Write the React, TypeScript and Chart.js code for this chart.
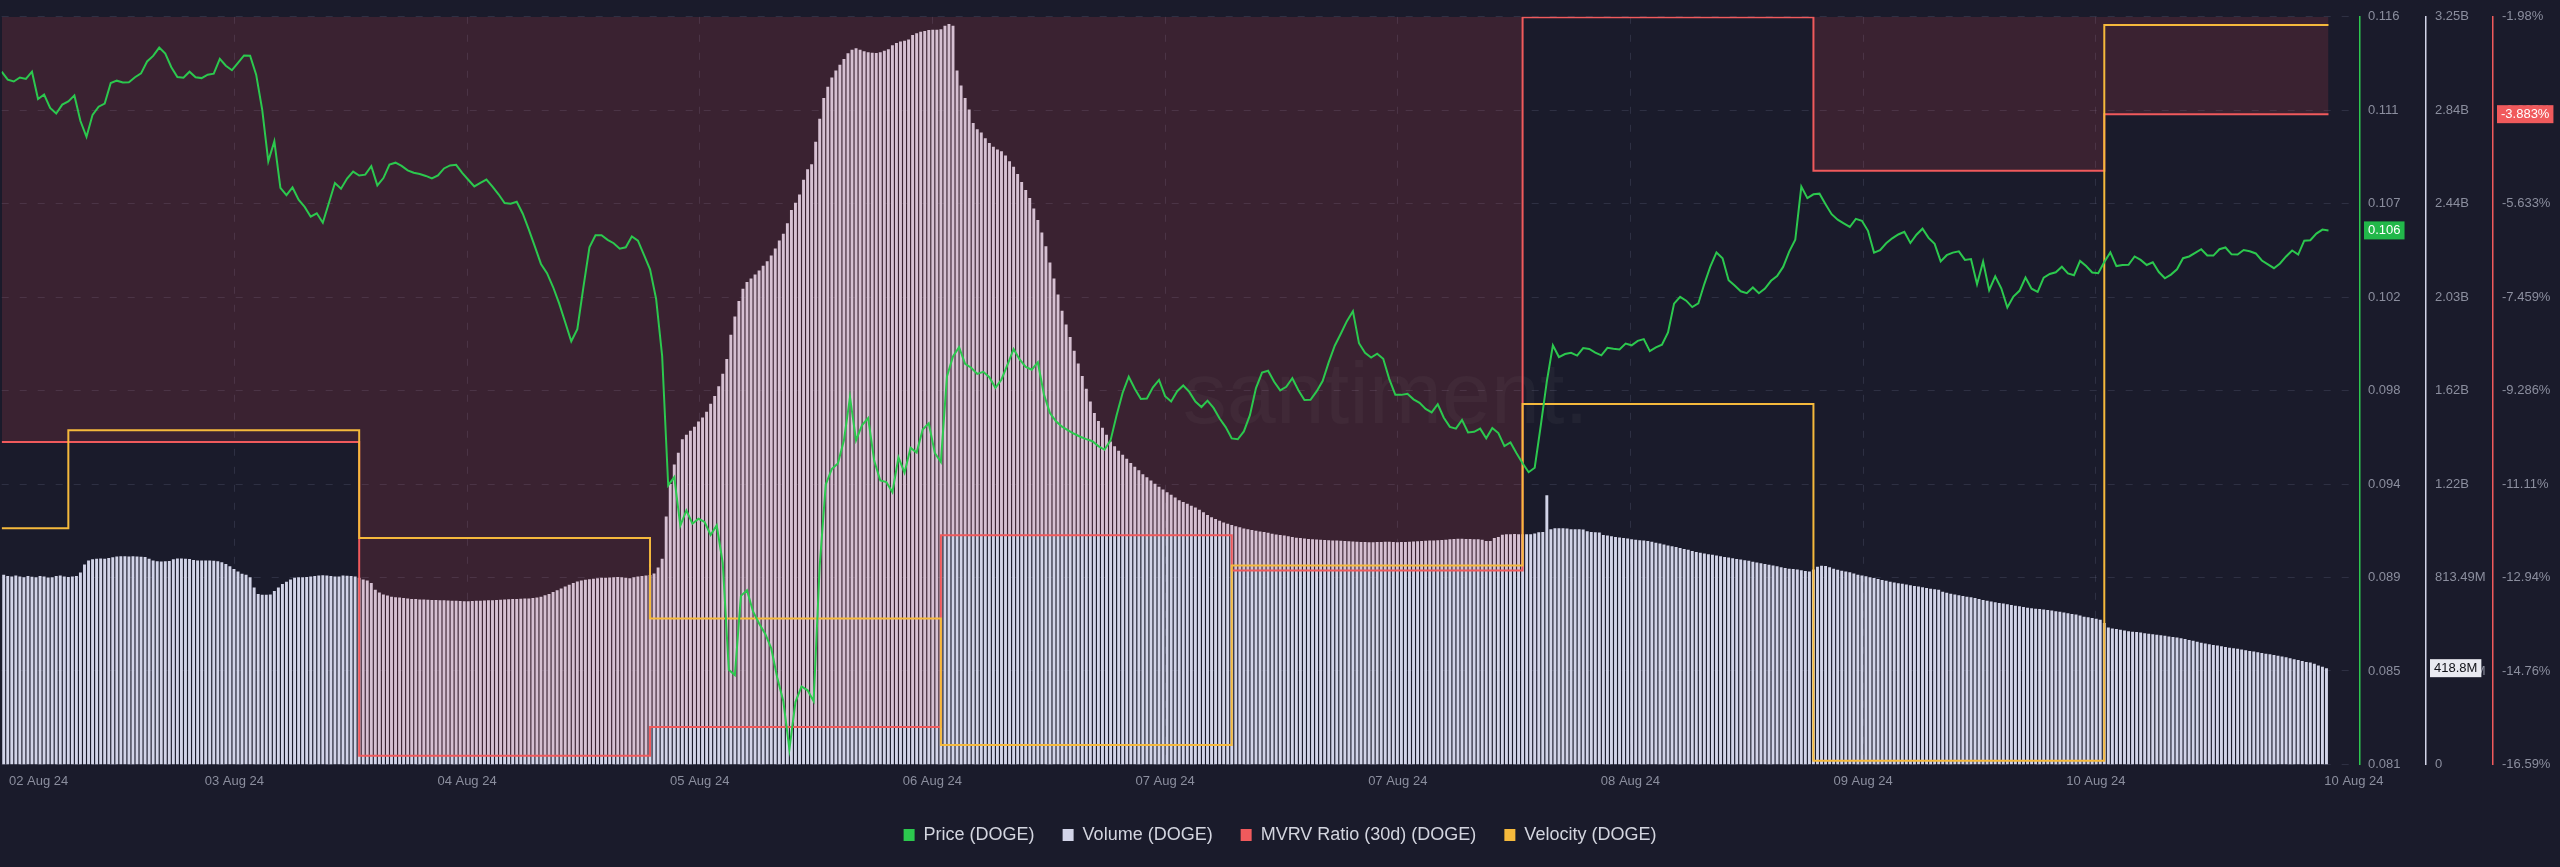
import React, { useEffect, useRef } from 'react';
import { Chart, registerables } from 'chart.js';

Chart.register(...registerables);

// ---- time grid (hours from the left edge of the chart) ----
const priceStepHours = 0.5;
const volumeStepHours = 1 / 3;

// Price (DOGE), USD, one value every 30 minutes
const priceValues = [
  0.11343, 0.11306, 0.11297, 0.11316, 0.11309, 0.11343, 0.11215, 0.11236, 0.11173, 0.11147,
  0.11189, 0.11204, 0.11232, 0.11112, 0.11038, 0.11141, 0.11179, 0.11194, 0.11290, 0.11301,
  0.11293, 0.11294, 0.11317, 0.11335, 0.11391, 0.11417, 0.11456, 0.11428, 0.11364, 0.11318,
  0.11315, 0.11343, 0.11317, 0.11313, 0.11329, 0.11334, 0.11403, 0.11371, 0.11350, 0.11384,
  0.11419, 0.11418, 0.11329, 0.11164, 0.10923, 0.11017, 0.10799, 0.10765, 0.10801, 0.10744,
  0.10710, 0.10664, 0.10680, 0.10636, 0.10728, 0.10822, 0.10795, 0.10843, 0.10875, 0.10857,
  0.10861, 0.10901, 0.10811, 0.10845, 0.10908, 0.10917, 0.10902, 0.10881, 0.10870, 0.10864,
  0.10855, 0.10843, 0.10857, 0.10890, 0.10904, 0.10907, 0.10869, 0.10837, 0.10806, 0.10822,
  0.10838, 0.10805, 0.10769, 0.10728, 0.10725, 0.10734, 0.10678, 0.10604, 0.10524, 0.10443,
  0.10400, 0.10335, 0.10258, 0.10170, 0.10081, 0.10138, 0.10333, 0.10521, 0.10577, 0.10577,
  0.10556, 0.10540, 0.10514, 0.10521, 0.10572, 0.10552, 0.10485, 0.10418, 0.10280, 0.10012,
  0.09406, 0.09445, 0.09218, 0.09289, 0.09227, 0.09250, 0.09235, 0.09174, 0.09219, 0.09043,
  0.08543, 0.08518, 0.08889, 0.08915, 0.08816, 0.08760, 0.08712, 0.08644, 0.08506, 0.08396,
  0.08171, 0.08392, 0.08465, 0.08447, 0.08396, 0.09030, 0.09411, 0.09483, 0.09509, 0.09617,
  0.09819, 0.09617, 0.09689, 0.09721, 0.09521, 0.09429, 0.09422, 0.09374, 0.09537, 0.09466,
  0.09582, 0.09560, 0.09668, 0.09697, 0.09558, 0.09516, 0.09916, 0.10010, 0.10053, 0.09975,
  0.09957, 0.09928, 0.09938, 0.09913, 0.09863, 0.09902, 0.09971, 0.10045, 0.09996, 0.09961,
  0.09948, 0.09983, 0.09833, 0.09745, 0.09706, 0.09681, 0.09664, 0.09648, 0.09634, 0.09623,
  0.09613, 0.09590, 0.09573, 0.09617, 0.09735, 0.09840, 0.09915, 0.09859, 0.09811, 0.09813,
  0.09865, 0.09900, 0.09824, 0.09799, 0.09847, 0.09874, 0.09844, 0.09799, 0.09773, 0.09803,
  0.09769, 0.09719, 0.09679, 0.09626, 0.09622, 0.09659, 0.09735, 0.09862, 0.09934, 0.09943,
  0.09891, 0.09851, 0.09868, 0.09908, 0.09852, 0.09806, 0.09807, 0.09846, 0.09895, 0.09982,
  0.10060, 0.10116, 0.10175, 0.10222, 0.10072, 0.10027, 0.10005, 0.10023, 0.09999, 0.09904,
  0.09830, 0.09830, 0.09835, 0.09809, 0.09793, 0.09764, 0.09748, 0.09786, 0.09723, 0.09680,
  0.09672, 0.09713, 0.09654, 0.09657, 0.09672, 0.09627, 0.09675, 0.09651, 0.09590, 0.09607,
  0.09557, 0.09510, 0.09468, 0.09489, 0.09686, 0.09893, 0.10062, 0.10007, 0.10021, 0.10027,
  0.10014, 0.10049, 0.10045, 0.10028, 0.10015, 0.10050, 0.10046, 0.10043, 0.10070, 0.10062,
  0.10083, 0.10091, 0.10035, 0.10052, 0.10065, 0.10122, 0.10257, 0.10289, 0.10271, 0.10241,
  0.10258, 0.10350, 0.10432, 0.10497, 0.10470, 0.10367, 0.10342, 0.10315, 0.10306, 0.10333,
  0.10306, 0.10328, 0.10364, 0.10386, 0.10429, 0.10501, 0.10556, 0.10805, 0.10751, 0.10769,
  0.10772, 0.10722, 0.10676, 0.10650, 0.10633, 0.10616, 0.10654, 0.10645, 0.10598, 0.10496,
  0.10508, 0.10540, 0.10563, 0.10581, 0.10593, 0.10541, 0.10580, 0.10608, 0.10565, 0.10537,
  0.10455, 0.10484, 0.10496, 0.10502, 0.10462, 0.10466, 0.10348, 0.10454, 0.10320, 0.10385,
  0.10329, 0.10239, 0.10290, 0.10317, 0.10379, 0.10327, 0.10312, 0.10379, 0.10396, 0.10404,
  0.10430, 0.10399, 0.10390, 0.10457, 0.10433, 0.10403, 0.10400, 0.10452, 0.10497, 0.10433,
  0.10438, 0.10439, 0.10478, 0.10462, 0.10438, 0.10451, 0.10405, 0.10376, 0.10393, 0.10418,
  0.10470, 0.10478, 0.10495, 0.10512, 0.10483, 0.10482, 0.10512, 0.10520, 0.10488, 0.10487,
  0.10508, 0.10502, 0.10492, 0.10459, 0.10441, 0.10423, 0.10445, 0.10478, 0.10506, 0.10487,
  0.10552, 0.10554, 0.10585, 0.10604, 0.10600,
];

// Volume (DOGE), millions of USD, one bar every 20 minutes
const volumeValues = [
  825, 820, 818, 822, 818, 815, 820, 817, 815, 820, 818, 814,
  815, 820, 822, 818, 816, 818, 820, 835, 870, 888, 893, 895,
  896, 895, 898, 902, 905, 906, 906, 905, 906, 905, 904, 903,
  895, 888, 884, 883, 884, 885, 893, 896, 896, 895, 894, 890,
  888, 888, 887, 887, 886, 884, 880, 872, 862, 850, 840, 830,
  825, 815, 770, 742, 738, 738, 740, 755, 770, 785, 795, 805,
  812, 815, 815, 816, 818, 820, 822, 823, 822, 820, 818, 818,
  822, 821, 820, 818, 812, 805, 800, 790, 760, 748, 740, 735,
  730, 728, 726, 724, 722, 720, 720, 718, 718, 717, 716, 716,
  715, 714, 713, 712, 712, 711, 710, 710, 711, 712, 712, 713,
  714, 715, 716, 717, 718, 719, 720, 720, 721, 722, 722, 724,
  726, 730, 736, 742, 750, 758, 766, 774, 782, 790, 796, 800,
  804, 806, 808, 810, 812, 812, 814, 815, 816, 815, 812, 810,
  815, 818, 820, 822, 824, 831, 857, 895, 1079, 1220, 1305, 1356,
  1415, 1435, 1452, 1470, 1492, 1510, 1535, 1570, 1603, 1646, 1700, 1765,
  1870, 1950, 2017, 2070, 2100, 2115, 2132, 2150, 2170, 2190, 2215, 2245,
  2280, 2310, 2355, 2413, 2445, 2480, 2545, 2590, 2612, 2710, 2810, 2900,
  2950, 2990, 3020, 3045, 3070, 3095, 3110, 3117, 3110, 3104, 3100, 3098,
  3096, 3100, 3106, 3113, 3130, 3140, 3146, 3150, 3155, 3175, 3182, 3189,
  3192, 3196, 3198, 3198, 3200, 3215, 3223, 3215, 3020, 2955, 2900, 2850,
  2792, 2765, 2750, 2725, 2705, 2688, 2676, 2669, 2650, 2625, 2601, 2570,
  2535, 2500, 2465, 2420, 2370, 2315, 2255, 2185, 2115, 2045, 1975, 1915,
  1860, 1800, 1745, 1690, 1635, 1580, 1530, 1495, 1465, 1435, 1405, 1385,
  1365, 1348, 1330, 1312, 1295, 1280, 1263, 1250, 1236, 1222, 1208, 1196,
  1185, 1174, 1162, 1150, 1142, 1134, 1126, 1118, 1108, 1097, 1086, 1076,
  1068, 1061, 1053, 1047, 1042, 1037, 1032, 1027, 1023, 1020, 1017, 1014,
  1011, 1008, 1004, 1001, 999, 996, 993, 990, 987, 985, 983, 981,
  980, 979, 978, 977, 976, 975, 974, 973, 972, 971, 970, 969,
  968, 968, 967, 967, 968, 968, 969, 969, 968, 967, 968, 968,
  969, 970, 971, 972, 973, 974, 975, 976, 977, 978, 980, 981,
  982, 982, 981, 981, 980, 980, 978, 972, 972, 985, 990, 1000,
  1002, 1002, 1003, 1002, 1002, 1002, 1002, 1005, 1010, 1012, 1172, 1023,
  1028, 1028, 1028, 1027, 1024, 1023, 1023, 1022, 1015, 1011, 1010, 1009,
  998, 996, 993, 990, 988, 985, 983, 980, 978, 976, 974, 972,
  969, 965, 961, 957, 953, 950, 946, 942, 938, 934, 929, 924,
  921, 918, 915, 912, 909, 906, 903, 900, 897, 894, 892, 889,
  886, 882, 879, 875, 872, 869, 866, 862, 858, 855, 852, 850,
  848, 845, 842, 840, 848, 860, 865, 864, 858, 852, 847, 843,
  840, 836, 831, 826, 822, 819, 815, 811, 807, 803, 799, 795,
  792, 789, 786, 783, 780, 777, 774, 771, 768, 765, 762, 760,
  751, 747, 743, 740, 736, 733, 730, 727, 724, 720, 716, 712,
  709, 706, 703, 700, 697, 694, 691, 688, 685, 682, 680, 678,
  676, 674, 672, 670, 667, 664, 661, 658, 655, 652, 648, 643,
  640, 637, 634, 630, 615, 596, 592, 589, 586, 583, 580, 577,
  576, 574, 571, 569, 567, 564, 562, 560, 557, 555, 552, 549,
  546, 542, 538, 534, 530, 526, 523, 520, 517, 514, 511, 508,
  506, 503, 500, 497, 494, 491, 488, 485, 482, 479, 476, 473,
  470, 466, 462, 458, 454, 450, 446, 443, 438, 430, 425, 418.8,
];

// Daily metrics (MVRV and velocity change once per day)
const dailyHours = [0, 5.5, 29.5, 53.5, 77.5, 101.5, 125.5, 149.5, 173.5, 192];
const mvrvValues = [-10.29, -10.29, -16.42, -15.86, -12.11, -12.8, -1.99, -4.99, -3.883, -3.883];
const velocityValues = [3.16, 4.47, 3.03, 1.95, 0.26, 2.66, 4.82, 0.05, 9.89, 9.89];

// Axis ticks
const xTickHours = [3.05, 19.2, 38.4, 57.6, 76.8, 96, 115.2, 134.4, 153.6, 172.8, 194.1];
const xTickLabels = [
  '02 Aug 24', '03 Aug 24', '04 Aug 24', '05 Aug 24', '06 Aug 24', '07 Aug 24',
  '07 Aug 24', '08 Aug 24', '09 Aug 24', '10 Aug 24', '10 Aug 24',
];
const priceTickLabels = ['0.081', '0.085', '0.089', '0.094', '0.098', '0.102', '0.107', '0.111', '0.116'];
const volumeTickLabels = ['0', '406.74M', '813.49M', '1.22B', '1.62B', '2.03B', '2.44B', '2.84B', '3.25B'];
const mvrvTickLabels = ['-16.59%', '-14.76%', '-12.94%', '-11.11%', '-9.286%', '-7.459%', '-5.633%', '-3.807%', '-1.98%'];
const seriesNames = ['Price (DOGE)', 'Volume (DOGE)', 'MVRV Ratio (30d) (DOGE)', 'Velocity (DOGE)'];

const BG = '#1a1b2b';
const GREEN = '#2cc84e';
const LAVENDER = '#d2d4e8';
const RED = '#f05a5c';
const YELLOW = '#f5b93c';
const TICK = '#8b8e9e';
const FONT = '"Liberation Sans", Arial, sans-serif';

function evenTicks(scale: any) {
  const n = 8;
  const out = [];
  for (let i = 0; i <= n; i++) out.push({ value: scale.min + ((scale.max - scale.min) * i) / n });
  scale.ticks = out;
}

const lastValuePlugin = {
  id: 'lastValue',
  afterDraw(chart: any) {
    const ctx = chart.ctx;
    const boxes = [
      { scale: chart.scales.yPrice, value: priceValues[priceValues.length - 1], text: priceValues[priceValues.length - 1].toFixed(3), bg: '#22b84a', fg: '#ffffff' },
      { scale: chart.scales.yVolume, value: volumeValues[volumeValues.length - 1], text: volumeValues[volumeValues.length - 1].toFixed(1) + 'M', bg: '#e9eaf1', fg: '#111218' },
      { scale: chart.scales.yMvrv, value: mvrvValues[mvrvValues.length - 1], text: mvrvValues[mvrvValues.length - 1].toFixed(3) + '%', bg: RED, fg: '#ffffff' },
    ];
    ctx.save();
    ctx.font = '13px ' + FONT;
    ctx.textBaseline = 'middle';
    ctx.textAlign = 'left';
    for (const b of boxes) {
      const y = b.scale.getPixelForValue(b.value);
      const x = b.scale.left + 4;
      const w = ctx.measureText(b.text).width + 8;
      ctx.fillStyle = b.bg;
      ctx.fillRect(x, y - 9, w, 18);
      ctx.fillStyle = b.fg;
      ctx.fillText(b.text, x + 4, y + 0.5);
    }
    ctx.restore();
  },
};

const watermarkPlugin = {
  id: 'watermark',
  beforeDatasetsDraw(chart: any) {
    const { ctx, chartArea } = chart;
    ctx.save();
    ctx.font = '88px ' + FONT;
    ctx.fillStyle = 'rgba(255,255,255,0.035)';
    ctx.textAlign = 'center';
    ctx.textBaseline = 'middle';
    ctx.fillText('santiment.', (chartArea.left + chartArea.right) / 2 + 205, chartArea.top + 382);
    ctx.restore();
  },
};

export default function App() {
  const ref = useRef<HTMLCanvasElement | null>(null);

  useEffect(() => {
    document.body.style.margin = '0';
    document.body.style.background = BG;
    const canvas = ref.current;
    if (!canvas) return;

    const priceData = priceValues.map((v, i) => ({ x: i * priceStepHours, y: v }));
    const volumeData = volumeValues.map((v, i) => ({ x: (i + 0.5) * volumeStepHours, y: v }));
    const mvrvData = mvrvValues.map((v, i) => ({ x: dailyHours[i], y: v }));
    const velocityData = velocityValues.map((v, i) => ({ x: dailyHours[i], y: v }));
    const legendColors = [GREEN, LAVENDER, RED, YELLOW];

    const chart = new Chart(canvas, {
      type: 'line',
      data: {
        datasets: [
          {
            label: seriesNames[0], data: priceData, yAxisID: 'yPrice', order: 0,
            borderColor: GREEN, backgroundColor: GREEN, borderWidth: 2, pointRadius: 0, tension: 0,
          },
          {
            type: 'bar', label: seriesNames[1], data: volumeData, yAxisID: 'yVolume', order: 3,
            backgroundColor: LAVENDER, borderWidth: 0, barPercentage: 0.72, categoryPercentage: 1,
          } as any,
          {
            label: seriesNames[2], data: mvrvData, yAxisID: 'yMvrv', order: 2,
            borderColor: RED, backgroundColor: 'rgba(240, 80, 90, 0.15)', borderWidth: 2,
            pointRadius: 0, stepped: true, fill: 'end',
          },
          {
            label: seriesNames[3], data: velocityData, yAxisID: 'yVelocity', order: 1,
            borderColor: YELLOW, backgroundColor: YELLOW, borderWidth: 2, pointRadius: 0, stepped: true,
          },
        ],
      },
      options: {
        animation: false,
        responsive: false,
        devicePixelRatio: 1,
        events: [],
        layout: { padding: { top: 10, bottom: 13, left: 0, right: 0 } },
        plugins: {
          tooltip: { enabled: false },
          legend: {
            position: 'bottom',
            labels: {
              boxWidth: 11, boxHeight: 12, padding: 28, color: '#d3d5df',
              font: { family: FONT, size: 18 },
              generateLabels: () =>
                seriesNames.map((name, i) => ({
                  text: name, fillStyle: legendColors[i], strokeStyle: legendColors[i],
                  lineWidth: 0, hidden: false, datasetIndex: i, fontColor: '#d3d5df',
                })),
            },
          },
        },
        scales: {
          x: {
            type: 'linear', min: 0, max: 194.6, offset: false,
            afterBuildTicks: (scale: any) => { scale.ticks = xTickHours.map((v) => ({ value: v })); },
            ticks: {
              autoSkip: false, maxRotation: 0, padding: 9, color: TICK,
              font: { family: FONT, size: 13 },
              callback: (_v: any, i: number) => xTickLabels[i],
            },
            grid: {
              offset: false, drawTicks: false,
              color: (c: any) => (c.index === 0 || c.index === xTickHours.length - 1 ? 'rgba(0,0,0,0)' : 'rgba(130,135,165,0.2)'),
            },
            border: { display: false, dash: [7, 11] },
          },
          yPrice: {
            type: 'linear', position: 'right', min: 0.081, max: 0.116,
            afterBuildTicks: evenTicks,
            afterFit: (s: any) => { s.width = 66; },
            ticks: { padding: 8, color: TICK, font: { family: FONT, size: 13 }, callback: (_v: any, i: number) => priceTickLabels[i] },
            grid: { drawTicks: false, color: 'rgba(130,135,165,0.2)' },
            border: { display: true, color: GREEN, width: 1.5, dash: [7, 11] },
          },
          yVolume: {
            type: 'linear', position: 'right', min: 0, max: 3253.96,
            afterBuildTicks: evenTicks,
            afterFit: (s: any) => { s.width = 67; },
            ticks: { padding: 9, color: TICK, font: { family: FONT, size: 13 }, callback: (_v: any, i: number) => volumeTickLabels[i] },
            grid: { display: false, drawTicks: false },
            border: { display: true, color: LAVENDER, width: 1.5 },
          },
          yMvrv: {
            type: 'linear', position: 'right', min: -16.59, max: -1.98,
            afterBuildTicks: evenTicks,
            afterFit: (s: any) => { s.width = 67; },
            ticks: { padding: 9, color: TICK, font: { family: FONT, size: 13 }, callback: (_v: any, i: number) => mvrvTickLabels[i] },
            grid: { display: false, drawTicks: false },
            border: { display: true, color: RED, width: 1.5 },
          },
          yVelocity: {
            type: 'linear', position: 'right', min: 0, max: 10, display: false,
          },
        },
      },
      plugins: [watermarkPlugin, lastValuePlugin],
    } as any);

    return () => chart.destroy();
  }, []);

  return (
    <div style={{ position: 'absolute', left: 0, top: 0, width: 2560, height: 867, background: BG }}>
      <canvas ref={ref} width={2560} height={867} style={{ display: 'block', width: 2560, height: 867 }} />
    </div>
  );
}
